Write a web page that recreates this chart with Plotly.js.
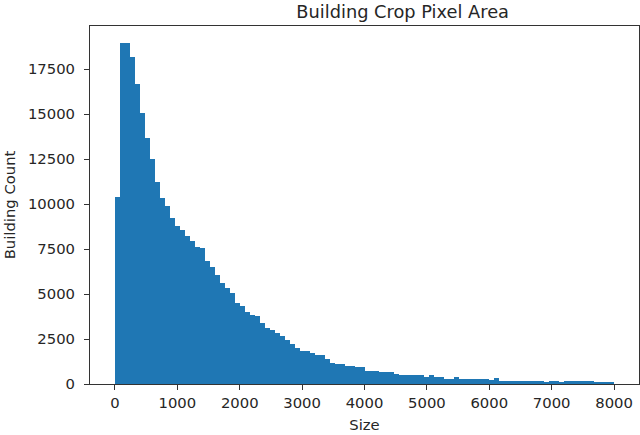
<!DOCTYPE html>
<html>
<head>
<meta charset="utf-8">
<script src="https://cdn.plot.ly/plotly-3.0.1.min.js"></script>
<style>
  html, body { margin: 0; padding: 0; background: #fff; }
  #chart { width: 640px; height: 435px; }
</style>
</head>
<body>
<div id="chart"></div>
<script>
// Histogram of building crop pixel areas: 100 bins of width 80 from 0 to 8000
const binStart = 0;
const binSize = 80;
const binCount = 100;
const counts = [
  10420, 18950, 18950, 18160, 16650, 15080, 13650, 12480, 11250, 10340,
  9880, 9230, 8760, 8580, 8240, 7930, 7610, 7540, 6810, 6500,
  6070, 5610, 5330, 5050, 4490, 4310, 4030, 3840, 3790, 3380,
  3100, 3010, 2820, 2670, 2450, 2210, 2020, 1850, 1850, 1710,
  1620, 1620, 1380, 1190, 1100, 1100, 1020, 1020, 930, 930,
  740, 745, 735, 650, 655, 645, 560, 485, 480, 478,
  482, 480, 410, 500, 412, 405, 280, 278, 410, 300,
  298, 302, 296, 262, 258, 240, 350, 188, 185, 182,
  186, 190, 184, 180, 186, 183, 112, 186, 184, 110,
  185, 188, 183, 186, 180, 184, 112, 108, 110, 106
];
const xTickVals = [0, 1000, 2000, 3000, 4000, 5000, 6000, 7000, 8000];
const yTickVals = [0, 2500, 5000, 7500, 10000, 12500, 15000, 17500];
const titleText = 'Building Crop Pixel Area';
const xTitle = 'Size';
const yTitle = 'Building Count';

const centers = counts.map((_, i) => binStart + binSize * (i + 0.5));

const trace = {
  type: 'bar',
  x: centers,
  y: counts,
  width: binSize,
  marker: { color: '#1f77b4', line: { width: 0 } },
  hoverinfo: 'x+y'
};

const font = 'DejaVu Sans, sans-serif';
const layout = {
  width: 640,
  height: 435,
  margin: { l: 90, r: 1, t: 26, b: 51, pad: 0 },
  paper_bgcolor: '#ffffff',
  plot_bgcolor: '#ffffff',
  showlegend: false,
  bargap: 0,
  font: { family: font, size: 14.8, color: '#262626' },
  title: {
    text: titleText,
    font: { family: font, size: 17.8, color: '#262626' },
    x: 0.5695, xref: 'paper', xanchor: 'center',
    y: 0.974, yref: 'container', yanchor: 'middle'
  },
  xaxis: {
    range: [-400, 8400],
    tickvals: xTickVals,
    ticktext: xTickVals.map(String),
    ticks: 'outside', ticklen: 5, tickwidth: 1, tickcolor: '#333',
    showline: true, linecolor: '#333', linewidth: 1, mirror: true,
    showgrid: false, zeroline: false,
    tickfont: { family: font, size: 14.8, color: '#262626' },
    title: { text: xTitle, font: { family: font, size: 14.8, color: '#262626' }, standoff: 9 }
  },
  yaxis: {
    range: [0, 19900],
    tickvals: yTickVals,
    ticktext: yTickVals.map(String),
    ticks: 'outside', ticklen: 5, tickwidth: 1, tickcolor: '#333',
    ticklabelstandoff: 6,
    showline: true, linecolor: '#333', linewidth: 1, mirror: true,
    showgrid: false, zeroline: false,
    tickfont: { family: font, size: 14.8, color: '#262626' },
    title: { text: yTitle, font: { family: font, size: 14.8, color: '#262626' }, standoff: 8 }
  }
};

Plotly.newPlot('chart', [trace], layout, { displayModeBar: false, staticPlot: true });
</script>
</body>
</html>
